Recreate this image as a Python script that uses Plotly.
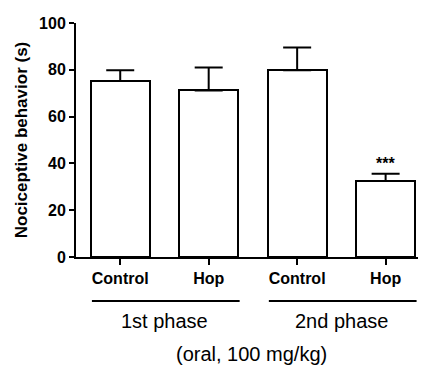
import plotly.graph_objects as go

categories = ["Control", "Hop", "Control", "Hop"]
means = [75.2, 71.2, 79.8, 32.5]
sem = [4.6, 9.8, 9.7, 3.1]
phase_labels = ["1st phase", "2nd phase"]
y_ticks = [0, 20, 40, 60, 80, 100]
note = "(oral, 100 mg/kg)"
sig = "***"

x = list(range(len(categories)))
FONT = "Liberation Sans, Arial, sans-serif"

fig = go.Figure()
fig.add_trace(go.Bar(
    x=x, y=means, width=0.67,
    marker=dict(color="white", line=dict(color="black", width=2)),
    error_y=dict(type="data", array=sem, arrayminus=[0] * len(sem), symmetric=False,
                 color="black", thickness=2, width=14),
    showlegend=False,
))

fig.add_annotation(x=3, y=means[3] + sem[3], text=f"<b>{sig}</b>", showarrow=False,
                   yanchor="bottom", yshift=0, font=dict(family=FONT, size=16, color="black"))

# phase lines and labels
for i, lab in enumerate(phase_labels):
    x0, x1 = 2 * i - 0.32, 2 * i + 1.35
    fig.add_shape(type="line", xref="x", yref="paper", x0=x0, x1=x1, y0=-0.188, y1=-0.188,
                  line=dict(color="black", width=2))
    fig.add_annotation(x=2 * i + 0.5, xref="x", yref="paper", y=-0.33, text=lab,
                       showarrow=False, font=dict(family=FONT, size=20, color="black"))

fig.add_annotation(x=1.48, xref="x", yref="paper", y=-0.47, text=note, showarrow=False,
                   font=dict(family=FONT, size=20, color="black"))

fig.update_layout(
    width=418, height=361,
    margin=dict(l=68, r=5, t=15, b=112),
    plot_bgcolor="white", paper_bgcolor="white",
    bargap=0,
    font=dict(family=FONT, color="black"),
)
fig.update_xaxes(
    range=[-0.5, 3.4], tickvals=x, ticktext=[f"<b>{c}</b>" for c in categories],
    showline=True, linecolor="black", linewidth=2, ticks="outside", ticklen=6, tickwidth=2,
    tickcolor="black", tickfont=dict(family=FONT, size=16, color="black"), showgrid=False,
    zeroline=False, automargin=False,
)
fig.update_yaxes(
    range=[0, 100], tickvals=y_ticks, ticktext=[f"<b>{v}</b>" for v in y_ticks],
    showline=True, linecolor="black", linewidth=2, ticks="outside", ticklen=5, tickwidth=2,
    tickcolor="black", tickfont=dict(family=FONT, size=16, color="black"), showgrid=False,
    zeroline=False, automargin=False,
    title=dict(text="<b>Nociceptive behavior (s)</b>", font=dict(family=FONT, size=17, color="black"),
               standoff=7),
)

fig.write_html("out.html")
